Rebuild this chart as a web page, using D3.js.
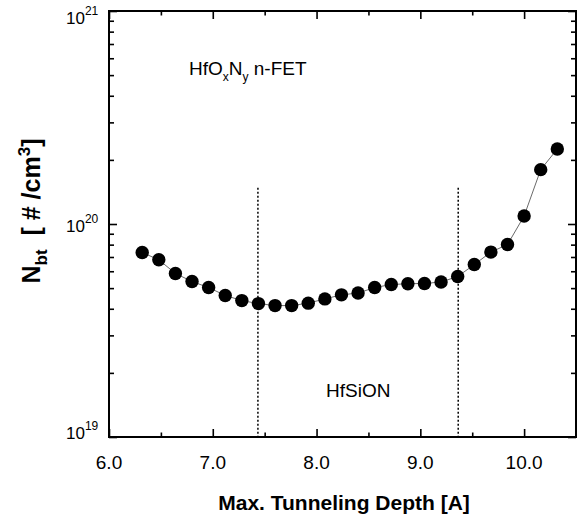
<!DOCTYPE html>
<html>
<head>
<meta charset="utf-8">
<script src="https://cdn.jsdelivr.net/npm/d3@7"></script>
<style>
  body { margin: 0; background: #fff; }
  text { font-family: "Liberation Sans", Arial, sans-serif; fill: #000; }
</style>
</head>
<body>
<script>
// max. tunneling depth [A] for each measured point
const depth = [6.32, 6.48, 6.64, 6.80, 6.96, 7.12, 7.28, 7.44, 7.60, 7.76,
  7.92, 8.08, 8.24, 8.40, 8.56, 8.72, 8.88, 9.04, 9.20, 9.36,
  9.52, 9.68, 9.84, 10.00, 10.16, 10.32];
// border trap density N_bt [#/cm^3]
const nbt = [7.35e19, 6.79e19, 5.86e19, 5.37e19, 5.03e19, 4.62e19, 4.37e19, 4.23e19, 4.14e19, 4.14e19,
  4.25e19, 4.45e19, 4.65e19, 4.74e19, 5.03e19, 5.20e19, 5.24e19, 5.26e19, 5.34e19, 5.67e19,
  6.45e19, 7.38e19, 8.01e19, 1.09e20, 1.80e20, 2.25e20];
// layer boundaries (dotted lines) and the height they reach
const boundaries = [7.435, 9.365];
const boundaryTop = 1.48e20;
// tick labels
const xTicks = [6, 7, 8, 9, 10];
const xMinor = [6.5, 7.5, 8.5, 9.5];
const yTicks = [1e19, 1e20, 1e21];

const width = 577, height = 517;
const margin = {top: 11, right: 1, bottom: 80, left: 109};

const svg = d3.select('body').append('svg')
  .attr('width', width)
  .attr('height', height);

const x = d3.scaleLinear()
  .domain([6, 10.5])
  .range([margin.left, width - margin.right]);

const y = d3.scaleLog()
  .domain([1e19, 1e21])
  .range([height - margin.bottom, margin.top]);

const x0 = x.range()[0], x1 = x.range()[1];
const y0 = y.range()[0], y1 = y.range()[1];

// minor log ticks: 2..9 of every decade
const yMinor = y.ticks().filter(v => !yTicks.includes(v));

// ticks point inwards on all four sides
function tickAxis(axis, g) {
  g.call(axis);
  g.select('.domain').remove();
  g.selectAll('line').attr('stroke', '#000').attr('stroke-width', 1.6);
}

tickAxis(d3.axisBottom(x).tickValues(xTicks).tickSize(-8).tickSizeOuter(0).tickFormat(''),
  svg.append('g').attr('transform', `translate(0,${y0})`));
tickAxis(d3.axisBottom(x).tickValues(xMinor).tickSize(-4.5).tickSizeOuter(0).tickFormat(''),
  svg.append('g').attr('transform', `translate(0,${y0})`));
tickAxis(d3.axisTop(x).tickValues(xTicks).tickSize(-8).tickSizeOuter(0).tickFormat(''),
  svg.append('g').attr('transform', `translate(0,${y1})`));
tickAxis(d3.axisTop(x).tickValues(xMinor).tickSize(-4.5).tickSizeOuter(0).tickFormat(''),
  svg.append('g').attr('transform', `translate(0,${y1})`));
tickAxis(d3.axisLeft(y).tickValues(yTicks).tickSize(-8).tickSizeOuter(0).tickFormat(''),
  svg.append('g').attr('transform', `translate(${x0},0)`));
tickAxis(d3.axisLeft(y).tickValues(yMinor).tickSize(-5).tickSizeOuter(0).tickFormat(''),
  svg.append('g').attr('transform', `translate(${x0},0)`));
tickAxis(d3.axisRight(y).tickValues(yTicks).tickSize(-8).tickSizeOuter(0).tickFormat(''),
  svg.append('g').attr('transform', `translate(${x1},0)`));
tickAxis(d3.axisRight(y).tickValues(yMinor).tickSize(-5).tickSizeOuter(0).tickFormat(''),
  svg.append('g').attr('transform', `translate(${x1},0)`));

// frame
svg.append('rect')
  .attr('x', x0).attr('y', y1)
  .attr('width', x1 - x0).attr('height', y0 - y1)
  .attr('fill', 'none')
  .attr('stroke', '#000')
  .attr('stroke-width', 2);

// x tick labels
svg.append('g').selectAll('text')
  .data(xTicks)
  .join('text')
  .attr('x', d => x(d))
  .attr('y', y0 + 32)
  .attr('text-anchor', 'middle')
  .style('font-size', '19px')
  .text(d3.format('.1f'));

// y tick labels as 10^n
const yLab = svg.append('g').selectAll('text')
  .data(yTicks)
  .join('text')
  .attr('x', 66)
  .attr('y', (d, i) => y(d) + [2, 8, 13][i])
  .style('font-size', '17px');
yLab.append('tspan').text('10');
yLab.append('tspan')
  .attr('dy', -9)
  .style('font-size', '12px')
  .text(d => Math.round(Math.log10(d)));

// dotted layer boundaries
svg.append('g').selectAll('line')
  .data(boundaries)
  .join('line')
  .attr('x1', d => x(d)).attr('x2', d => x(d))
  .attr('y1', y(boundaryTop)).attr('y2', y0)
  .attr('stroke', '#000')
  .attr('stroke-width', 1.5)
  .attr('stroke-dasharray', '2,2');

// thin connecting line
const points = depth.map((d, i) => [d, nbt[i]]);
svg.append('path')
  .datum(points)
  .attr('fill', 'none')
  .attr('stroke', '#444')
  .attr('stroke-width', 0.8)
  .attr('d', d3.line().x(d => x(d[0])).y(d => y(d[1])));

svg.append('g').selectAll('circle')
  .data(points)
  .join('circle')
  .attr('cx', d => x(d[0]))
  .attr('cy', d => y(d[1]))
  .attr('r', 6.7)
  .attr('fill', '#000');

// annotations
const ann = svg.append('text')
  .attr('x', 189).attr('y', 75)
  .style('font-size', '19px');
ann.append('tspan').text('HfO');
ann.append('tspan').attr('dy', 6).style('font-size', '12px').text('x');
ann.append('tspan').attr('dy', -6).text('N');
ann.append('tspan').attr('dy', 6).style('font-size', '12px').text('y');
ann.append('tspan').attr('dy', -6).text(' n-FET');

svg.append('text')
  .attr('x', 326).attr('y', 397)
  .style('font-size', '19px')
  .text('HfSiON');

// axis titles
svg.append('text')
  .attr('x', 344).attr('y', 510)
  .attr('text-anchor', 'middle')
  .style('font-size', '21px')
  .style('font-weight', 'bold')
  .text('Max. Tunneling Depth [A]');

const yTitle = svg.append('text')
  .attr('transform', 'translate(40,211) rotate(-90)')
  .attr('text-anchor', 'middle')
  .style('font-size', '25px')
  .style('font-weight', 'bold');
yTitle.append('tspan').text('N');
yTitle.append('tspan').attr('dy', 7).style('font-size', '17px').text('bt');
yTitle.append('tspan').attr('dy', -7).text('\u00a0\u00a0[ # /cm');
yTitle.append('tspan').attr('dy', -10).style('font-size', '17px').text('3');
yTitle.append('tspan').attr('dy', 10).text(']');
</script>
</body>
</html>
